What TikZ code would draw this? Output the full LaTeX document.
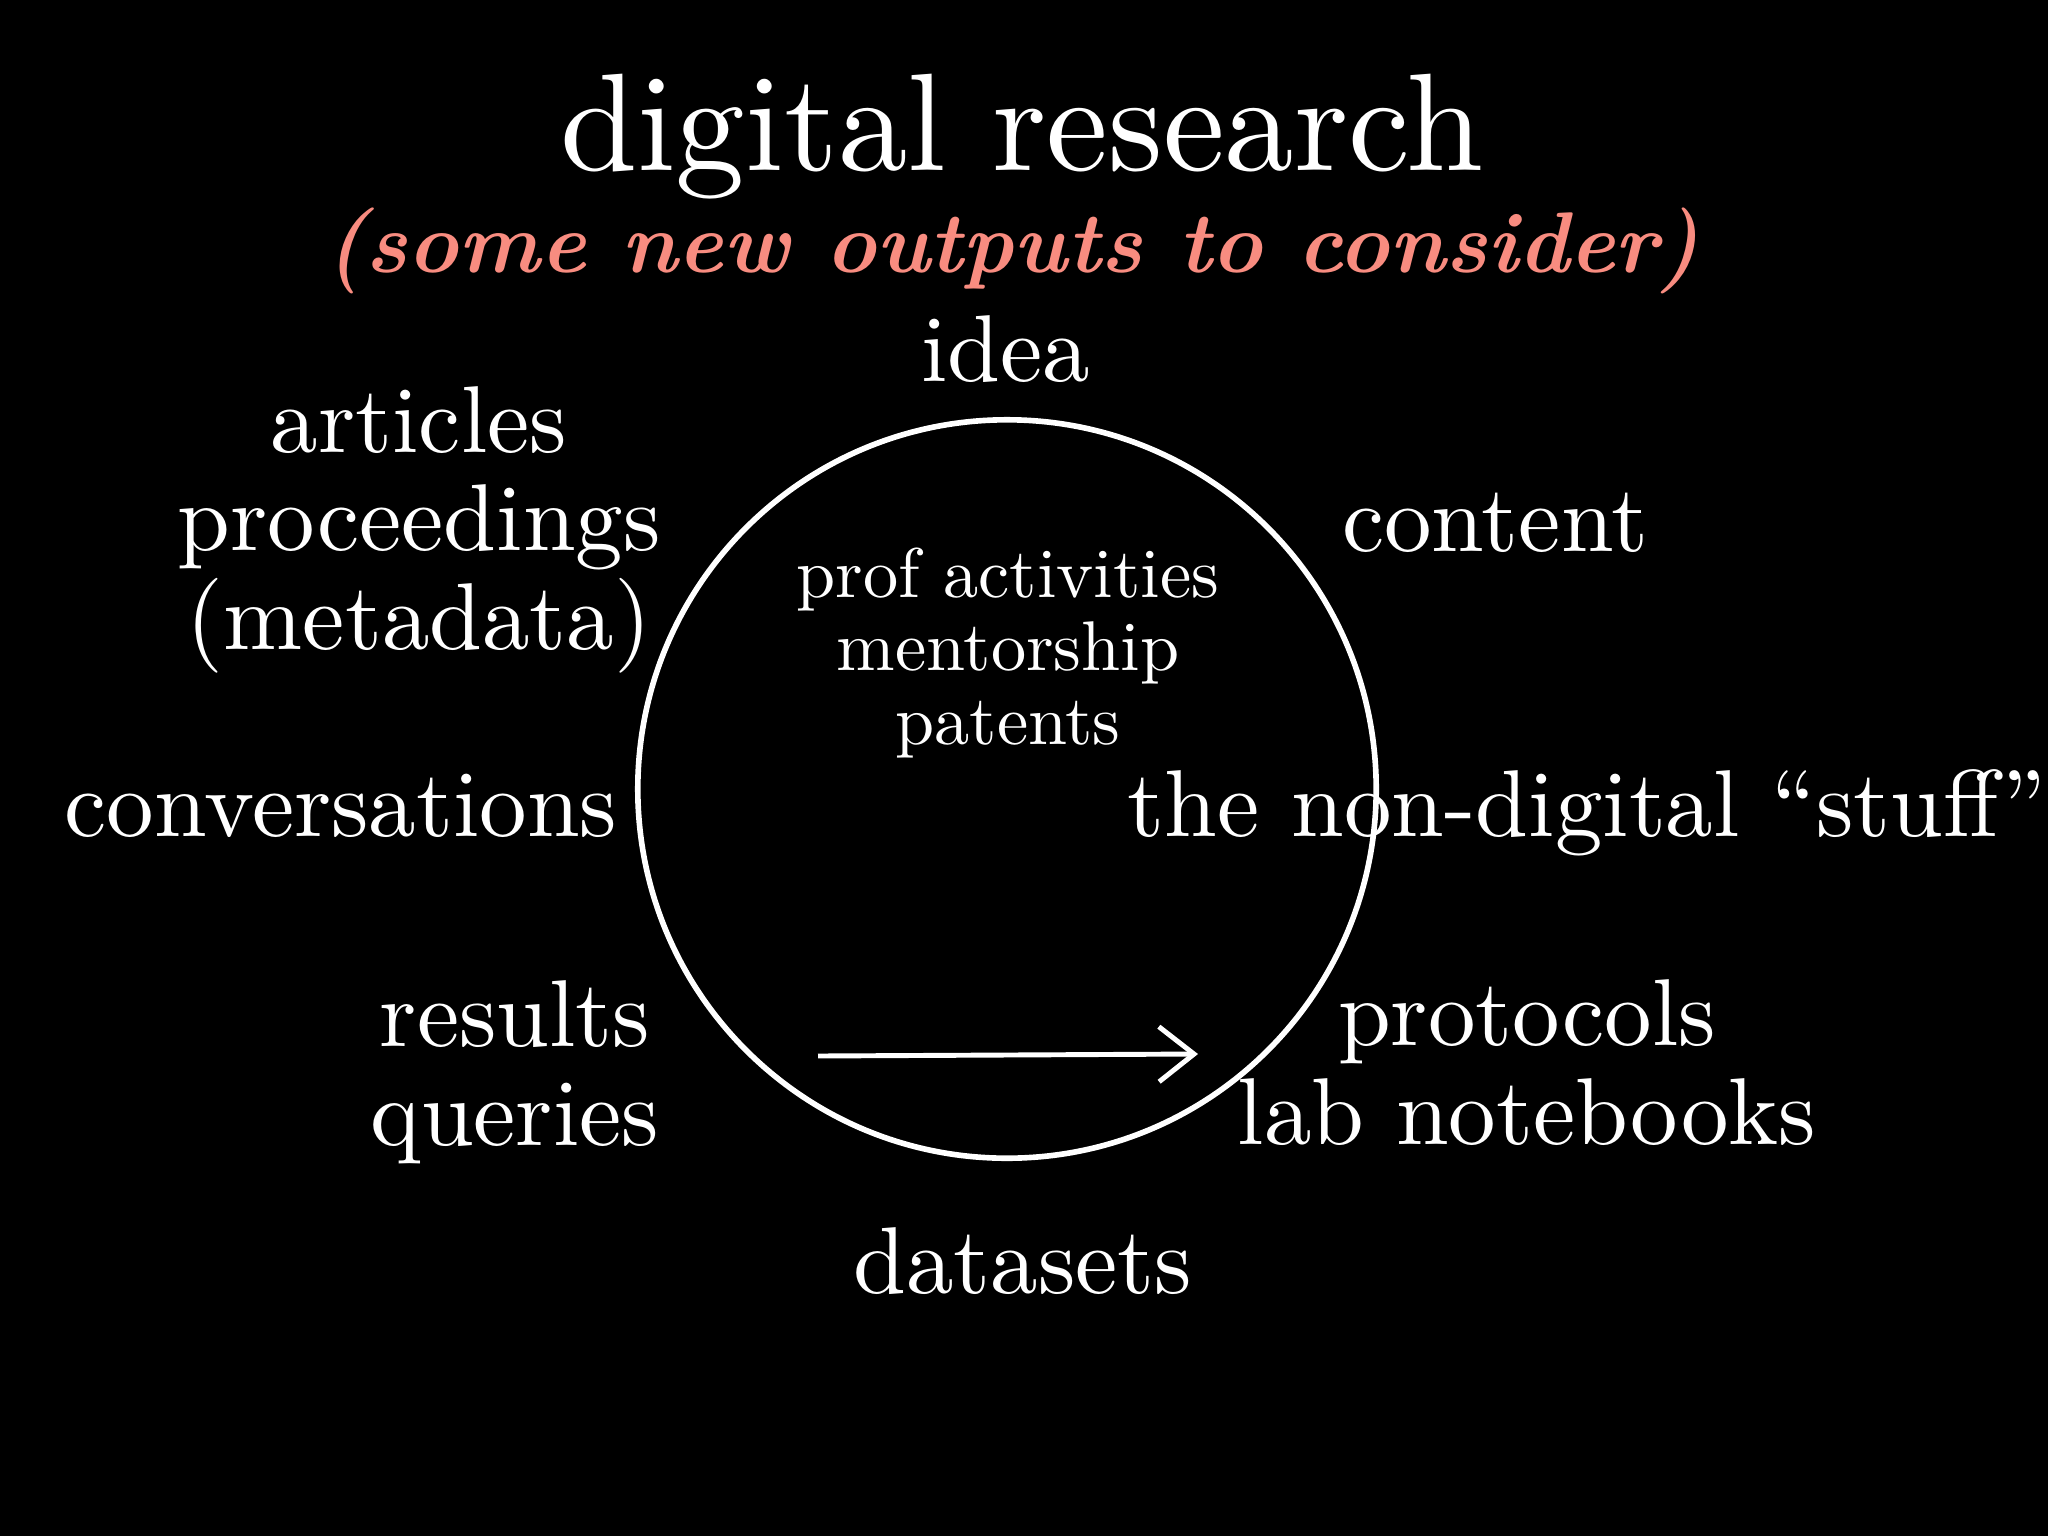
\documentclass[tikz,border=0pt]{standalone}
\usepackage{tikz}
\usepackage{xcolor}
\usepackage{fontspec}
\setmainfont{lmroman10-regular.otf}[BoldFont=lmroman10-bold.otf,ItalicFont=lmroman10-italic.otf,BoldItalicFont=lmroman10-bolditalic.otf]
\usetikzlibrary{arrows.meta}
\definecolor{salmon}{RGB}{248,140,128}

\begin{document}
\begin{tikzpicture}[x=0.01cm,y=-0.01cm,
		word/.style={text=white,anchor=base,inner sep=0pt,align=center,font=\fontsize{27}{27.9}\selectfont},
		small/.style={word,font=\fontsize{20}{20.8}\selectfont}]
			\fill[black] (0,0) rectangle (2048,1536);
			\useasboundingbox (0,0) rectangle (2048,1536);
			\node[word,font=\fontsize{39.5}{40}\selectfont] (title) at (1022,170) {digital research};
			\node[word,text=salmon,font=\fontsize{24.5}{26}\selectfont\bfseries\itshape] (sub) at (1012,272) {(some new outputs to consider)};
			\node[draw=white,line width=1.6pt,circle,minimum size=7.38cm,inner sep=0pt] (loop) at (1007,789) {};
			\node[word] (idea) at (1006,381) {idea};
			\node[word] (articles) at (419,649) {articles\\proceedings\\(metadata)};
			\node[word] (content) at (1495,551) {content};
			\node[small] (prof) at (1008,744) {prof activities\\mentorship\\patents};
			\node[word] (conv) at (341,836) {conversations};
			\node[word] (stuff) at (1587,836) {the non-digital “stuff”};
			\node[word] (results) at (515,1145) {results\\queries};
			\node[word] (protocols) at (1527,1144) {protocols\\lab notebooks};
			\node[word] (datasets) at (1023,1293) {datasets};
			\coordinate (tail) at (818,1056);
			\coordinate (tip) at (1198,1054);
			\draw[white,line width=1.4pt,-{Straight Barb[length=3.5mm,width=5.5mm]}] (tail) -- (tip);
		\end{tikzpicture}
\end{document}
